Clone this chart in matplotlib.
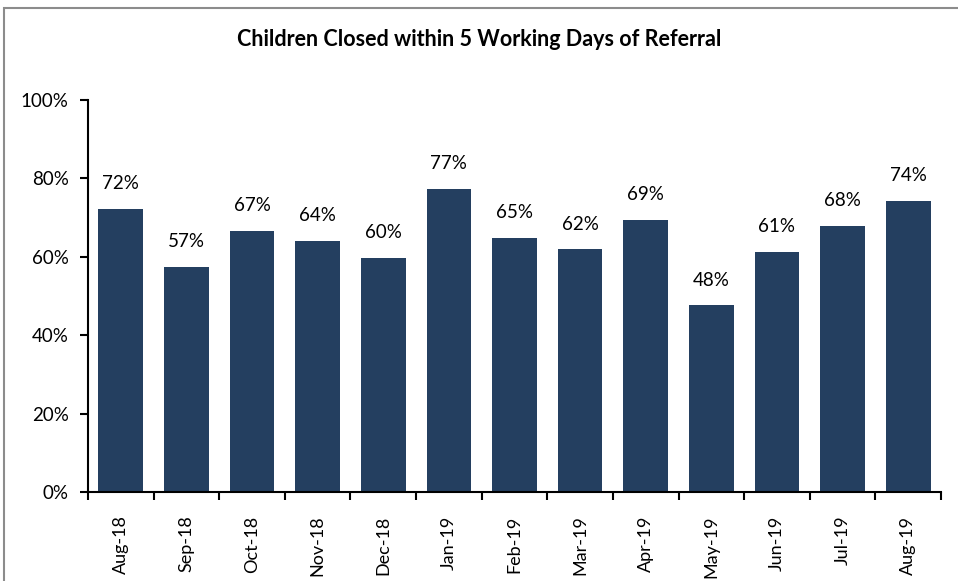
import matplotlib
matplotlib.use("Agg")
import matplotlib.pyplot as plt
from matplotlib.patches import Rectangle
import numpy as np

categories = ["Aug-18", "Sep-18", "Oct-18", "Nov-18", "Dec-18", "Jan-19", "Feb-19",
              "Mar-19", "Apr-19", "May-19", "Jun-19", "Jul-19", "Aug-19"]
values = [0.722, 0.574, 0.667, 0.640, 0.598, 0.774, 0.648, 0.619, 0.694, 0.476, 0.612, 0.679, 0.742]
yticks = [0, 0.2, 0.4, 0.6, 0.8, 1.0]
ytick_labels = ["0%", "20%", "40%", "60%", "80%", "100%"]
title = "Children Closed within 5 Working Days of Referral"

plt.rcParams['font.family'] = ['Lato', 'DejaVu Sans']

W, H = 958, 581
fig = plt.figure(figsize=(W / 100, H / 100), dpi=100)
fig.patches.append(Rectangle((4 / W, -0.1), 1.2, (H - 8) / H + 0.1, transform=fig.transFigure,
                             fill=False, edgecolor="#8c8c8c", linewidth=1.5))

ax = fig.add_axes([88 / W, (H - 492) / H, (941 - 88) / W, (492 - 100) / H])
x = np.arange(len(categories))
bars = ax.bar(x, values, width=0.68, color="#243f60", zorder=2)
for xi, v in zip(x, values):
    ax.annotate(f"{round(v * 100):.0f}%", (xi, v), xytext=(0, 12), textcoords="offset points",
                ha="center", va="bottom", fontsize=13.5, color="black")

ax.set_xlim(-0.5, len(categories) - 0.5)
ax.set_ylim(0, 1.0)
ax.set_yticks(yticks)
ax.set_yticklabels(ytick_labels, fontsize=13.5)
ax.set_xticks(x)
ax.set_xticklabels(categories, rotation=90, fontsize=13)
ax.tick_params(axis="x", which="major", length=0, pad=17)
ax.set_xticks(np.arange(-0.5, len(categories), 1), minor=True)
ax.tick_params(axis="x", which="minor", length=6, width=1.5, direction="out")
ax.tick_params(axis="y", length=6, width=1.5, direction="out", pad=8)
for s in ["top", "right"]:
    ax.spines[s].set_visible(False)
for s in ["left", "bottom"]:
    ax.spines[s].set_linewidth(1.5)

fig.text(0.5, (H - 40) / H, title, ha="center", va="center", fontsize=15.5, fontweight="bold")

fig.savefig("out.png", dpi=100)
